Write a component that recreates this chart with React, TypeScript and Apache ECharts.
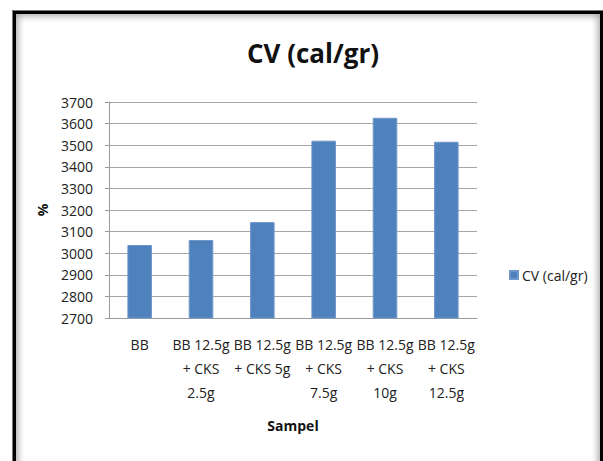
import React, { useEffect, useRef } from "react";
import * as echarts from "echarts";

const categories = [
  "BB",
  "BB 12.5g\n+ CKS\n2.5g",
  "BB 12.5g\n+ CKS 5g",
  "BB 12.5g\n+ CKS\n7.5g",
  "BB 12.5g\n+ CKS\n10g",
  "BB 12.5g\n+ CKS\n12.5g",
];
const cvValues = [3038, 3061, 3144, 3521, 3627, 3516];
const seriesName = "CV (cal/gr)";
const yMin = 2700;
const yMax = 3700;
const yStep = 100;

const FONT = "'Open Sans', 'Liberation Sans', sans-serif";

export default function App() {
  const ref = useRef<HTMLDivElement>(null);
  useEffect(() => {
    if (!ref.current) return;
    const chart = echarts.init(ref.current, undefined, { renderer: "svg" });
    chart.setOption({
      animation: false,
      backgroundColor: "transparent",
      textStyle: { fontFamily: FONT },
      title: {
        text: "CV (cal/gr)",
        left: 308,
        top: 35,
        textAlign: "center",
        textStyle: { fontFamily: FONT, fontSize: 26, fontWeight: "bold", color: "#111" },
      },
      legend: {
        data: [seriesName],
        left: 504,
        top: 263,
        itemWidth: 8,
        itemHeight: 8,
        icon: "rect",
        textStyle: { fontFamily: FONT, fontSize: 14, color: "#222", padding: [0, 0, 0, -1] },
      },
      grid: { left: 109, right: 126, top: 102, bottom: 143, containLabel: false },
      xAxis: {
        type: "category",
        data: categories,
        name: "Sampel",
        nameLocation: "middle",
        nameGap: 100,
        nameTextStyle: { fontFamily: FONT, fontSize: 14, fontWeight: "bold", color: "#111" },
        axisLine: { lineStyle: { color: "#9a9a9a" } },
        axisTick: { show: false },
        axisLabel: {
          interval: 0,
          margin: 14,
          fontFamily: FONT,
          fontSize: 14,
          lineHeight: 24,
          color: "#222",
        },
      },
      yAxis: {
        type: "value",
        min: yMin,
        max: yMax,
        interval: yStep,
        name: "%",
        nameLocation: "middle",
        nameGap: 60,
        nameRotate: 90,
        nameTextStyle: { fontFamily: FONT, fontSize: 14, fontWeight: "bold", color: "#111" },
        axisLine: { show: true, lineStyle: { color: "#9a9a9a" } },
        axisTick: { show: true, length: 4, lineStyle: { color: "#9a9a9a" } },
        axisLabel: {
          margin: 16,
          fontFamily: FONT,
          fontSize: 14,
          color: "#222",
          formatter: (v: number) => String(v),
        },
        splitLine: { lineStyle: { color: "#a6a6a6" } },
      },
      series: [
        {
          name: seriesName,
          type: "bar",
          data: cvValues,
          barWidth: "40%",
          itemStyle: { color: "#4f81bd", borderColor: "#6f97c9", borderWidth: 1 },
        },
      ],
    });
    return () => chart.dispose();
  }, []);
  return (
    <div style={{ position: "fixed", left: 0, top: 0, width: 603, height: 461, overflow: "hidden", background: "#fff" }}>
      <div
        style={{
          position: "absolute",
          left: 12,
          top: 10,
          width: 594,
          height: 470,
          boxSizing: "border-box",
          borderTop: "1px solid #777",
          borderLeft: "1px solid #777",
          borderRight: "1px solid #777",
        }}
      >
        <div
          style={{
            position: "absolute",
            left: 0,
            top: 0,
            right: 2,
            bottom: 0,
            border: "3px solid #000",
            boxShadow: "inset 0 0 7px 2px rgba(0,0,0,0.35)",
          }}
        />
      </div>
      <div ref={ref} style={{ position: "absolute", left: 0, top: 0, width: 603, height: 461 }} />
    </div>
  );
}
